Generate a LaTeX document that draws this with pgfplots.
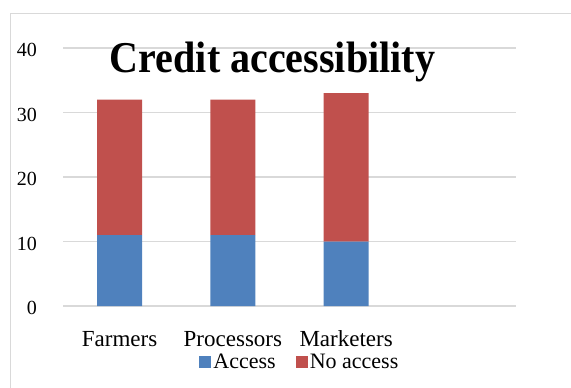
\documentclass[border=0pt]{standalone}
\usepackage{pgfplots}
\pgfplotsset{compat=1.18}
\usepackage{graphicx}
\usepackage{fontspec}
\setmainfont{Liberation Serif}
\definecolor{accblue}{HTML}{4F81BD}
\definecolor{noacc}{HTML}{C0504D}
\definecolor{gridc}{HTML}{D9D9D9}
\begin{document}
\begin{tikzpicture}[x=1bp,y=1bp]
\draw[gridc, line width=1.3bp] (10.5,373.5) rectangle (600,-20);
\begin{axis}[
  at={(63bp,81bp)}, anchor=south west,
  scale only axis, width=453bp, height=258bp,
  ybar stacked, bar width=45bp,
  xmin=-0.5, xmax=3.5, ymin=0, ymax=40,
  xtick={0,1,2}, xticklabels={Farmers,Processors,Marketers},
  ytick={0,10,20,30,40},
  ymajorgrids, grid style={gridc, line width=1.3bp},
  axis line style={draw=none}, major tick length=0pt,
  tick label style={font=\rmfamily\fontsize{20bp}{24bp}\selectfont, inner sep=0pt},
  /pgf/number format/assume math mode=true,
  yticklabel style={anchor=east, xshift=-26bp, yshift=-2bp},
  xticklabel style={anchor=base, yshift=-40bp, font=\rmfamily\fontsize{23bp}{26bp}\selectfont},
  clip=false,
  legend columns=2,
  legend style={at={(0.523,-0.217)}, anchor=center, draw=none, fill=none,
    font=\rmfamily\fontsize{22bp}{24bp}\selectfont,
    /tikz/every even column/.append style={column sep=18bp}},
  legend image code/.code={\fill[#1] (0bp,-6bp) rectangle (12bp,6bp);},
]
\addplot[fill=accblue, draw=none] coordinates {(0,11) (1,11) (2,10)};
\addplot[fill=noacc, draw=none] coordinates {(0,21) (1,21) (2,23)};
\legend{Access, No access}
\end{axis}
\node[font=\fontsize{44bp}{50bp}\selectfont\bfseries, anchor=base] at (272.5,315) {\scalebox{0.91}[1]{Credit accessibility}};
\pgfresetboundingbox
\useasboundingbox (0,0) rectangle (571,387);
\end{tikzpicture}
\end{document}
